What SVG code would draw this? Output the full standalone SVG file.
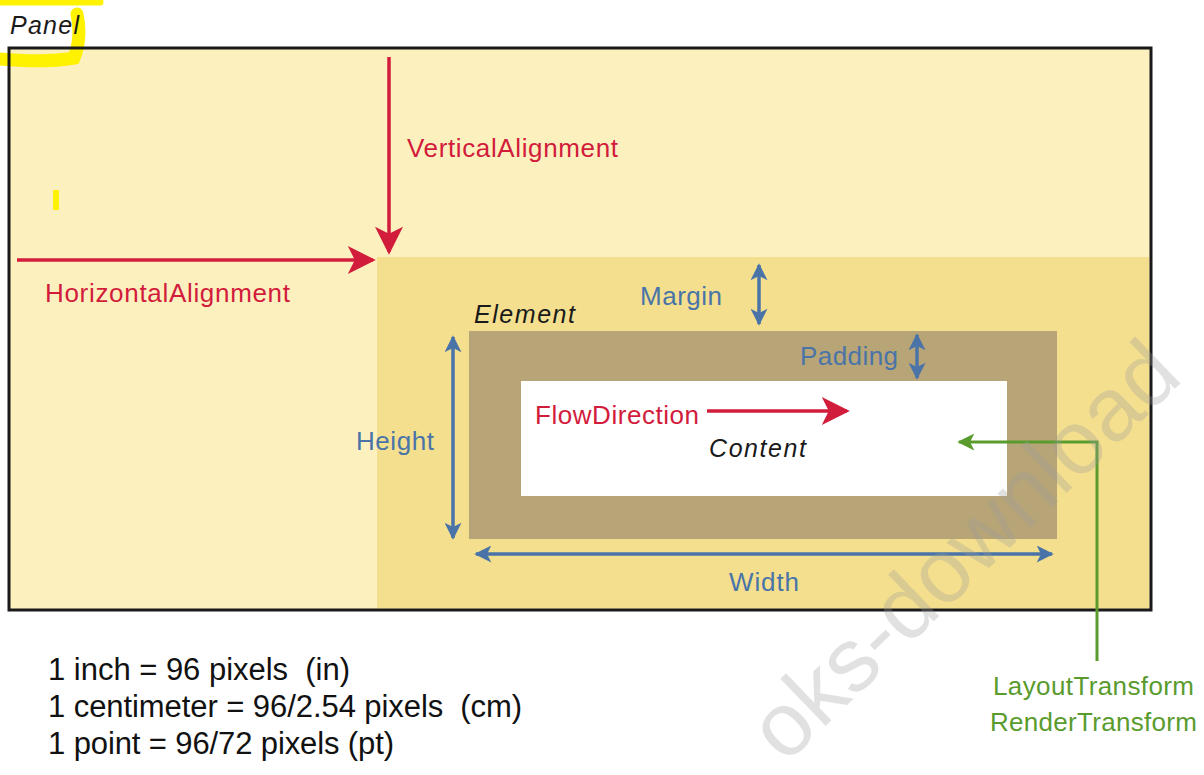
<svg xmlns="http://www.w3.org/2000/svg" width="1204" height="775" viewBox="0 0 1204 775">
<defs>
<style>
text{font-family:"Liberation Sans",Arial,sans-serif;}
.red{fill:#d21c3c;font-size:26px;}
.blue{fill:#4a74a8;font-size:26px;}
.green{fill:#5a9b2e;font-size:26px;}
.it{font-style:italic;fill:#1a1a1a;font-size:25px;}
.note{fill:#111;font-size:31px;}
.rl{stroke:#d21c3c;stroke-width:3.5;fill:none;}
.bl{stroke:#4a74a8;stroke-width:3.5;fill:none;}
.gl{stroke:#5a9b2e;stroke-width:3;fill:none;}
</style>
<marker id="arBig" viewBox="0 0 10 10" refX="9" refY="5" markerWidth="30" markerHeight="28" markerUnits="userSpaceOnUse" orient="auto-start-reverse"><path d="M0,0 L10,5 L0,10 L2.5,5 z" fill="#d21c3c"/></marker>
<marker id="ab" viewBox="0 0 10 10" refX="9" refY="5" markerWidth="20" markerHeight="17" markerUnits="userSpaceOnUse" orient="auto-start-reverse"><path d="M0,0 L10,5 L0,10 L2.5,5 z" fill="#4a74a8"/></marker>
<marker id="ag" viewBox="0 0 10 10" refX="9" refY="5" markerWidth="20" markerHeight="17" markerUnits="userSpaceOnUse" orient="auto-start-reverse"><path d="M0,0 L10,5 L0,10 L2.5,5 z" fill="#5a9b2e"/></marker>
</defs>
<rect width="1204" height="775" fill="#ffffff"/>
<g id="panel">
<rect x="9" y="48" width="1142" height="562" fill="#fdf0bf"/>
<rect x="377" y="257" width="772.5" height="351.5" fill="#f4df8f"/>
</g>
<g id="highlight" fill="none" stroke="#fff200" stroke-linecap="round">
<path d="M0,2 L100,2" stroke-width="7"/>
<path d="M0,59 Q45,63 74,58 Q82,38 77,14" stroke-width="13"/>
<rect x="53" y="190" width="6" height="20" fill="#fff200" stroke="none"/>
</g>
<g id="panel-frame">
<rect x="9" y="48" width="1142" height="562" fill="none" stroke="#1a1a1a" stroke-width="3"/>
<text class="it" x="10" y="34" textLength="69" fill="#333">Panel</text>
</g>
<g id="element">
<rect x="469" y="331" width="588" height="208" fill="#b8a577"/>
<text class="it" x="474" y="323" textLength="101">Element</text>
</g>
<g id="content">
<rect x="521" y="381" width="486" height="115" fill="#ffffff"/>
<text class="it" x="709" y="457" textLength="97">Content</text>
</g>
<g id="labels">
<text class="red" x="407" y="157" textLength="211">VerticalAlignment</text>
<text class="red" x="45" y="302" textLength="245">HorizontalAlignment</text>
<text class="red" x="535" y="424" textLength="164">FlowDirection</text>
<text class="blue" x="640" y="305" textLength="82">Margin</text>
<text class="blue" x="800" y="365" textLength="98">Padding</text>
<text class="blue" x="356" y="450" textLength="78">Height</text>
<text class="blue" x="729" y="591" textLength="70">Width</text>
<text class="green" x="993" y="695" textLength="201">LayoutTransform</text>
<text class="green" x="990" y="731" textLength="207">RenderTransform</text>
</g>
<g id="connectors">
<line class="rl" x1="389" y1="57" x2="389" y2="252" marker-end="url(#arBig)"/>
<line class="rl" x1="17" y1="260" x2="373" y2="260" marker-end="url(#arBig)"/>
<line class="rl" x1="707" y1="411" x2="847" y2="411" marker-end="url(#arBig)"/>
<line class="bl" x1="759" y1="265" x2="759" y2="324" marker-start="url(#ab)" marker-end="url(#ab)"/>
<line class="bl" x1="917" y1="335" x2="917" y2="378" marker-start="url(#ab)" marker-end="url(#ab)"/>
<line class="bl" x1="453" y1="337" x2="453" y2="538" marker-start="url(#ab)" marker-end="url(#ab)"/>
<line class="bl" x1="476" y1="554" x2="1052" y2="554" marker-start="url(#ab)" marker-end="url(#ab)"/>
<polyline class="gl" points="1097,661 1097,442 959,442" marker-end="url(#ag)"/>
</g>
<g id="notes">
<text class="note" x="48" y="680" xml:space="preserve" textLength="302">1 inch = 96 pixels  (in)</text>
<text class="note" x="48" y="717" xml:space="preserve" textLength="474">1 centimeter = 96/2.54 pixels  (cm)</text>
<text class="note" x="48" y="754" textLength="346">1 point = 96/72 pixels (pt)</text>
</g>
<g id="watermark">
<text x="0" y="0" transform="translate(985,572) rotate(-44)" text-anchor="middle" font-size="90" fill="#9a9a9a" fill-opacity="0.3">oks-download</text>
</g>
</svg>
